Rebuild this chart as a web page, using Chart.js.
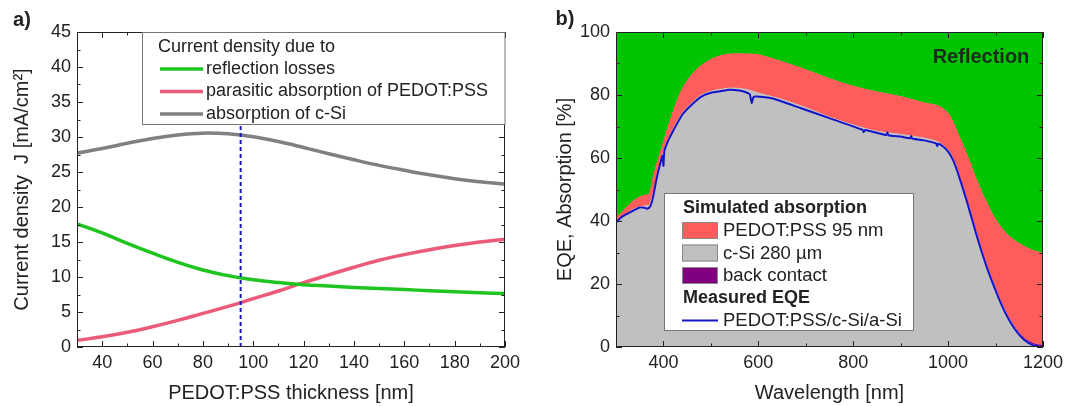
<!DOCTYPE html>
<html>
<head>
<meta charset="utf-8">
<script src="https://cdn.jsdelivr.net/npm/chart.js@4.4.0/dist/chart.umd.min.js"></script>
<style>
  html, body { margin: 0; padding: 0; background: #fff; }
  #wrap { position: relative; width: 1079px; height: 406px; overflow: hidden; }
  canvas { position: absolute; top: 0; }
  #chartA { left: 0; }
  #chartB { left: 540px; }
</style>
</head>
<body>
<div id="wrap">
  <canvas id="chartA" width="540" height="406"></canvas>
  <canvas id="chartB" width="539" height="406"></canvas>
</div>
<script>
// ---- panel a: current density vs PEDOT:PSS thickness ----
const thickness      = [30, 40, 50, 60, 70, 80, 90, 100, 110, 120, 130, 140, 150, 160, 170, 180, 190, 200];
const reflectionLoss = [17.6, 16.3, 14.8, 13.4, 12.1, 11.0, 10.2, 9.6, 9.2, 8.9, 8.7, 8.5, 8.35, 8.2, 8.05, 7.9, 7.75, 7.65];
const parasiticPedot = [0.95, 1.45, 2.1, 2.9, 3.8, 4.8, 5.8, 6.9, 8.0, 9.2, 10.3, 11.4, 12.4, 13.2, 13.9, 14.5, 15.0, 15.4];
const absorptionSi   = [27.7, 28.35, 29.1, 29.8, 30.3, 30.55, 30.45, 30.05, 29.35, 28.5, 27.6, 26.75, 25.95, 25.25, 24.6, 24.05, 23.6, 23.3];
const chosenThickness = 95;
const aXTicks = [40, 60, 80, 100, 120, 140, 160, 180, 200];
const aYTicks = [0, 5, 10, 15, 20, 25, 30, 35, 40, 45];

// ---- panel b: simulated absorption and measured EQE ----
const wavelength = [300, 320, 340, 360, 370, 380, 400, 420, 440, 460, 480, 500, 520, 540, 560, 580, 600, 650, 700, 750,
                    800, 850, 900, 950, 980, 1000, 1010, 1020, 1040, 1060, 1080, 1100, 1120, 1140, 1160, 1180, 1200];
const absSi      = [39.5, 42, 44, 44.8, 45, 50, 62, 69, 74.3, 77.5, 80, 81.2, 81.8, 82.2, 82.1, 81.6, 80.6, 78.6, 76, 73,
                    70.5, 68.5, 67.5, 66.3, 65, 62.5, 60, 56, 46.5, 36, 26.5, 18.5, 11.5, 6.2, 2.6, 0.7, 0];
const absBack    = [0, 0, 0, 0, 0, 0, 0, 0, 0, 0, 0, 0, 0, 0, 0, 0, 0, 0, 0, 0,
                    0, 0, 0, 0, 0, 0, 0, 0, 0, 0, 0.1, 0.2, 0.3, 0.4, 0.5, 0.6, 0.7];
const absPedot   = [1.5, 2, 2.8, 3.4, 3.6, 5, 3, 5.5, 7.7, 9, 9.4, 10.1, 10.7, 10.8, 11, 11.4, 12.2, 12, 12, 12.2,
                    12.3, 12.5, 12, 11.2, 11.5, 11.7, 11.5, 12, 14.5, 17, 19.7, 21.8, 24.7, 27.2, 28.9, 29.3, 29.1];
const eqeWavelength = [300, 310, 320, 330, 340, 350, 360, 366, 372, 378, 385, 392, 398, 400, 402, 410, 420, 440, 460, 480,
                       500, 520, 540, 560, 575, 582, 586, 590, 597, 630, 690, 760, 820, 822, 825, 870, 872, 874, 900, 920,
                       922, 924, 950, 975, 977, 979, 990, 1000, 1010, 1020, 1040, 1060, 1080, 1100, 1120, 1140, 1160, 1180, 1200];
const eqeMeasured   = [39.5, 41, 42, 42.8, 43.6, 44.3, 44.2, 43.9, 44.6, 47.5, 53, 57.5, 60.8, 57.5, 62.2, 65.5, 68.5, 73.8, 77, 79.5,
                       80.7, 81.2, 81.7, 81.4, 80.8, 80.2, 77.5, 79.4, 79.5, 78.9, 75.8, 72.1, 68.9, 68.2, 68.9, 67.3, 68.2, 67.2, 66.8, 66.3,
                       67, 66.2, 65.6, 64.6, 63.8, 64.5, 63.6, 62, 59.5, 55.5, 46, 35.5, 26, 18, 11, 5.8, 2.3, 0.5, 0];
const bXTicks = [400, 600, 800, 1000, 1200];
const bYTicks = [0, 20, 40, 60, 80, 100];

const FONT = '"Liberation Sans", Arial, sans-serif';
const INK = '#222';

// inward ticks on all four sides plus the closed frame
const frameTicks = {
  id: 'frameTicks',
  afterDatasetsDraw(chart, args, o) {
    const { ctx, chartArea: a } = chart;
    const x = chart.scales.x, y = chart.scales.y;
    const isMajor = (v, m) => Math.abs(v / m - Math.round(v / m)) < 1e-6;
    ctx.save();
    ctx.strokeStyle = INK;
    ctx.lineWidth = 1;
    ctx.beginPath();
    const nx = Math.round((x.max - x.min) / o.xMinor);
    for (let i = 0; i <= nx; i++) {
      const v = x.min + i * o.xMinor;
      const len = isMajor(v, o.xMajor) ? 6 : 3.5;
      const px = Math.round(x.getPixelForValue(v)) + 0.5;
      ctx.moveTo(px, a.bottom); ctx.lineTo(px, a.bottom - len);
      ctx.moveTo(px, a.top); ctx.lineTo(px, a.top + len);
    }
    const ny = Math.round((y.max - y.min) / o.yMinor);
    for (let i = 0; i <= ny; i++) {
      const v = y.min + i * o.yMinor;
      const len = isMajor(v, o.yMajor) ? 6 : 3.5;
      const py = Math.round(y.getPixelForValue(v)) + 0.5;
      ctx.moveTo(a.left, py); ctx.lineTo(a.left + len, py);
      ctx.moveTo(a.right, py); ctx.lineTo(a.right - len, py);
    }
    ctx.stroke();
    ctx.strokeRect(Math.round(a.left) + 0.5, Math.round(a.top) + 0.5, Math.round(a.width) - 1, Math.round(a.height) - 1);
    ctx.restore();
  }
};

const legendA = {
  id: 'legendA',
  afterDatasetsDraw(chart) {
    const { ctx, chartArea: a } = chart;
    ctx.save();
    ctx.fillStyle = '#fff';
    ctx.fillRect(142, a.top, a.right - 142, 92);
    ctx.strokeStyle = '#777';
    ctx.lineWidth = 1;
    ctx.strokeRect(142.5, Math.round(a.top) + 0.5, a.right - 142.5, 92);
    ctx.font = '18px ' + FONT;
    ctx.fillStyle = INK;
    ctx.textBaseline = 'middle';
    ctx.fillText('Current density due to', 158, 47);
    const rows = [
      ['reflection losses', '#1fc41f', 69],
      ['parasitic absorption of PEDOT:PSS', '#eb5a78', 91.5],
      ['absorption of c-Si', '#808080', 114]
    ];
    rows.forEach(([label, color, yy]) => {
      ctx.strokeStyle = color;
      ctx.lineWidth = 3.5;
      ctx.beginPath(); ctx.moveTo(160, yy); ctx.lineTo(203, yy); ctx.stroke();
      ctx.fillStyle = INK;
      ctx.fillText(label, 206, yy);
    });
    ctx.font = 'bold 20px ' + FONT;
    ctx.textAlign = 'center';
    ctx.fillText('a)', 22, 20);
    ctx.restore();
  }
};

const legendB = {
  id: 'legendB',
  afterDatasetsDraw(chart) {
    const { ctx } = chart;
    ctx.save();
    ctx.fillStyle = '#fff';
    ctx.fillRect(124, 193, 249, 137);
    ctx.strokeStyle = '#777';
    ctx.lineWidth = 1;
    ctx.strokeRect(124.5, 193.5, 249, 137);
    ctx.textBaseline = 'middle';
    ctx.fillStyle = INK;
    ctx.font = 'bold 18px ' + FONT;
    ctx.fillText('Simulated absorption', 143, 208);
    ctx.fillText('Measured EQE', 143, 298.5);
    ctx.font = '18.5px ' + FONT;
    const boxes = [
      ['PEDOT:PSS 95 nm', '#ff5c5c', 222],
      ['c-Si 280 \u00b5m', '#c0c0c0', 244.5],
      ['back contact', '#800080', 267]
    ];
    boxes.forEach(([label, color, top]) => {
      ctx.fillStyle = color;
      ctx.fillRect(142, top, 36, 17);
      ctx.strokeStyle = '#888';
      ctx.strokeRect(142.5, top + 0.5, 35, 16);
      ctx.fillStyle = INK;
      ctx.fillText(label, 183, top + 9);
    });
    ctx.strokeStyle = '#1414c8';
    ctx.lineWidth = 2;
    ctx.beginPath(); ctx.moveTo(142, 320.5); ctx.lineTo(178, 320.5); ctx.stroke();
    ctx.fillText('PEDOT:PSS/c-Si/a-Si', 183, 320.5);
    ctx.font = 'bold 20px ' + FONT;
    ctx.textAlign = 'center';
    ctx.fillStyle = '#1c2a1c';
    ctx.fillText('Reflection', 441, 57);
    ctx.fillStyle = INK;
    ctx.fillText('b)', 25, 19);
    ctx.restore();
  }
};

function axis(min, max, tickList, title, fit, tickPad, titlePad) {
  return {
    type: 'linear', min: min, max: max,
    afterBuildTicks: s => { s.ticks = tickList.map(v => ({ value: v })); },
    afterFit: fit,
    grid: { display: false, drawTicks: false },
    border: { display: false },
    ticks: { font: { family: FONT, size: 18 }, color: INK, padding: tickPad, maxRotation: 0, autoSkip: false,
             callback: v => String(v) },
    title: { display: true, text: title, font: { family: FONT, size: 20 }, color: INK, padding: titlePad }
  };
}

const pts = (xs, ys) => xs.map((v, i) => ({ x: v, y: ys[i] }));

new Chart(document.getElementById('chartA'), {
  type: 'line',
  data: {
    datasets: [
      { label: 'marker', data: [{ x: chosenThickness, y: 0 }, { x: chosenThickness, y: 45 }],
        borderColor: '#1a1ab4', borderWidth: 2, borderDash: [4, 3], pointRadius: 0 },
      { label: 'reflection losses', data: pts(thickness, reflectionLoss),
        borderColor: '#1fc41f', borderWidth: 3.5, pointRadius: 0, tension: 0.4 },
      { label: 'parasitic absorption of PEDOT:PSS', data: pts(thickness, parasiticPedot),
        borderColor: '#eb5a78', borderWidth: 3.5, pointRadius: 0, tension: 0.4 },
      { label: 'absorption of c-Si', data: pts(thickness, absorptionSi),
        borderColor: '#808080', borderWidth: 3.5, pointRadius: 0, tension: 0.4 }
    ]
  },
  options: {
    responsive: false, animation: false, devicePixelRatio: 1,
    layout: { padding: { top: 32, right: 35, left: 0, bottom: 0 } },
    plugins: {
      legend: { display: false }, tooltip: { enabled: false },
      frameTicks: { xMinor: 10, xMajor: 20, yMinor: 2.5, yMajor: 5 }
    },
    scales: {
      x: axis(30, 200, aXTicks, 'PEDOT:PSS thickness [nm]', s => { s.height = 59; }, 5, 1),
      y: axis(0, 45, aYTicks, 'Current density  J [mA/cm\u00b2]', s => { s.width = 77; }, 6, 10)
    }
  },
  plugins: [frameTicks, legendA]
});

// stacked boundaries built from the component arrays
const topSi = absSi.slice();
const topBack = topSi.map((v, i) => v + absBack[i]);
const topPedot = topBack.map((v, i) => v + absPedot[i]);
const topRefl = topPedot.map(v => v + (100 - v));

new Chart(document.getElementById('chartB'), {
  type: 'line',
  data: {
    datasets: [
      { label: 'PEDOT:PSS/c-Si/a-Si', data: pts(eqeWavelength, eqeMeasured),
        borderColor: '#1414c8', borderWidth: 2, pointRadius: 0, tension: 0.2 },
      { label: 'c-Si 280 um', data: pts(wavelength, topSi), fill: 'origin',
        backgroundColor: '#c0c0c0', borderColor: '#c0c0c0', borderWidth: 1, pointRadius: 0, tension: 0.3 },
      { label: 'back contact', data: pts(wavelength, topBack), fill: '-1',
        backgroundColor: '#800080', borderWidth: 0, pointRadius: 0, tension: 0.3 },
      { label: 'PEDOT:PSS 95 nm', data: pts(wavelength, topPedot), fill: '-1',
        backgroundColor: '#ff5c5c', borderColor: '#ff5c5c', borderWidth: 1, pointRadius: 0, tension: 0.3 },
      { label: 'Reflection', data: pts(wavelength, topRefl), fill: '-1',
        backgroundColor: '#00c400', borderColor: '#00c400', borderWidth: 1, pointRadius: 0 }
    ]
  },
  options: {
    responsive: false, animation: false, devicePixelRatio: 1,
    layout: { padding: { top: 32, right: 36, left: 0, bottom: 0 } },
    plugins: {
      legend: { display: false }, tooltip: { enabled: false },
      frameTicks: { xMinor: 100, xMajor: 200, yMinor: 10, yMajor: 20 }
    },
    scales: {
      x: axis(300, 1200, bXTicks, 'Wavelength [nm]', s => { s.height = 59; }, 5, 1),
      y: axis(0, 100, bYTicks, 'EQE, Absorption [%]', s => { s.width = 76; }, 6, 13)
    }
  },
  plugins: [frameTicks, legendB]
});
</script>
</body>
</html>
